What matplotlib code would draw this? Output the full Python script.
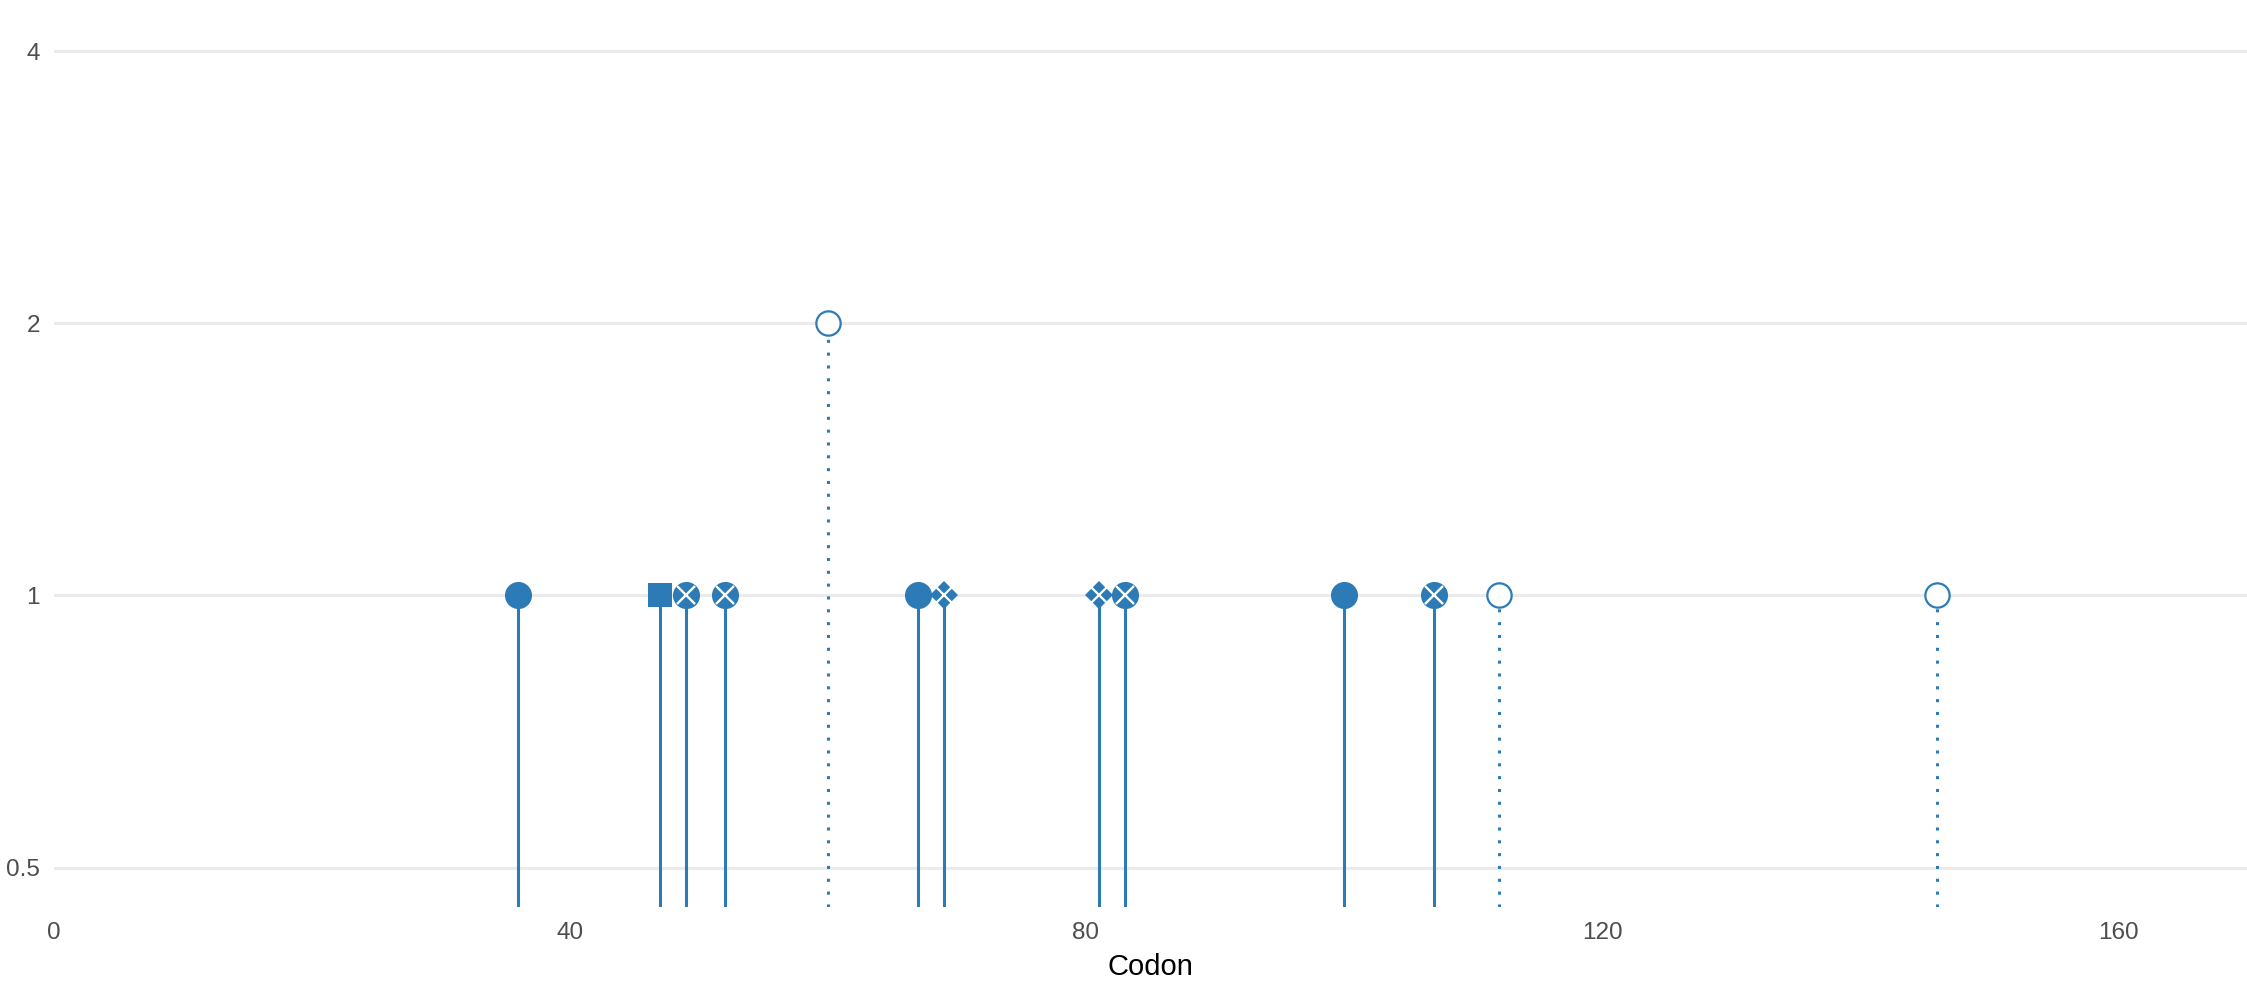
import matplotlib
matplotlib.use('Agg')
import matplotlib.pyplot as plt
from matplotlib.ticker import FixedLocator, NullLocator

plt.rcParams['font.family'] = ['Liberation Sans', 'DejaVu Sans']

# codon positions, counts and marker kinds
codons = [36, 47, 49, 52, 60, 67, 69, 81, 83, 100, 107, 112, 146]
counts = [1, 1, 1, 1, 2, 1, 1, 1, 1, 1, 1, 1, 1]
kinds = ['circle', 'square', 'circlex', 'circlex', 'open', 'circle', 'diamondx',
         'diamondx', 'circlex', 'circle', 'circlex', 'open', 'open']

yticks = [0.5, 1, 2, 4]
ylabels = ['0.5', '1', '2', '4']
xticks = [0, 40, 80, 120, 160]

blue = '#2c7bb6'
ybot, ytop = 0.452, 4.56

fig = plt.figure(figsize=(22.47, 9.86), dpi=100)
ax = fig.add_axes([0.024, 0.080, 0.976, 0.92])
ax.set_yscale('log', base=2)
ax.set_xlim(0, 170)
ax.set_ylim(ybot, ytop)

for x, y, k in zip(codons, counts, kinds):
    ls = (0, (1, 3.2)) if k == 'open' else '-'
    ax.plot([x, x], [ybot, y], color=blue, lw=2.2, ls=ls, zorder=2,
            solid_capstyle='butt')
    if k == 'open':
        ax.plot(x, y, 'o', ms=17.5, mfc='white', mec=blue, mew=1.6, zorder=3)
    elif k == 'square':
        ax.plot(x, y, 's', ms=17, mfc=blue, mec=blue, mew=0, zorder=3)
    elif k == 'diamondx':
        ax.plot(x, y, 'D', ms=14.5, mfc=blue, mec=blue, mew=0, zorder=3)
        ax.plot(x, y, 'x', ms=12, mec='white', mew=1.6, zorder=4)
    else:
        ax.plot(x, y, 'o', ms=19.5, mfc=blue, mec=blue, mew=0, zorder=3)
        if k == 'circlex':
            ax.plot(x, y, 'x', ms=13.5, mec='white', mew=1.7, zorder=4)

ax.yaxis.set_major_locator(FixedLocator(yticks))
ax.yaxis.set_minor_locator(NullLocator())
ax.set_yticklabels(ylabels)
ax.set_xticks(xticks)
ax.xaxis.set_minor_locator(NullLocator())
ax.grid(axis='y', color='#ebebeb', lw=2.2, zorder=0)
ax.set_axisbelow(True)
for s in ax.spines.values():
    s.set_visible(False)
ax.tick_params(axis='both', length=0, labelsize=17.5, labelcolor='#4d4d4d')
ax.tick_params(axis='y', pad=10)
ax.tick_params(axis='x', pad=11)
ax.set_xlabel('Codon', fontsize=21, color='black', labelpad=6)

fig.savefig('out.png', dpi=100)
